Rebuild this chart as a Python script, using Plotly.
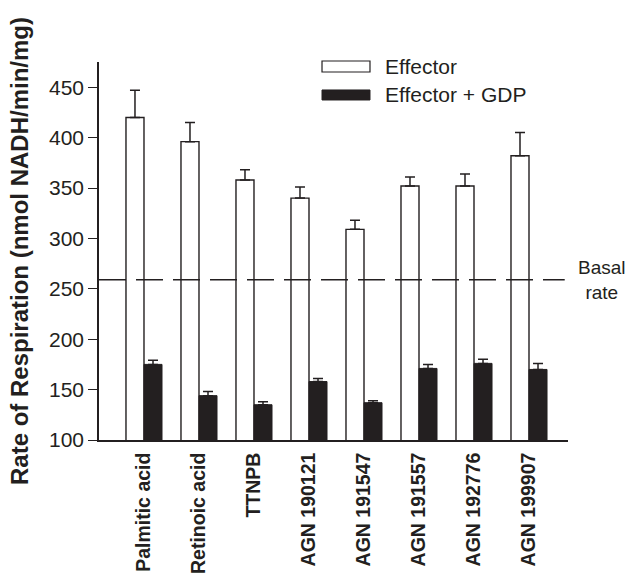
import plotly.graph_objects as go

categories = ["Palmitic acid", "Retinoic acid", "TTNPB", "AGN 190121",
              "AGN 191547", "AGN 191557", "AGN 192776", "AGN 199907"]
effector = [420, 396, 358, 340, 309, 352, 352, 382]
effector_err = [27, 19, 10, 11, 9, 9, 12, 23]
effector_gdp = [175, 144, 135, 158, 137, 171, 176, 170]
effector_gdp_err = [4, 4, 3, 3, 2, 4, 4, 6]
basal_rate = 259
y_ticks = [100, 150, 200, 250, 300, 350, 400, 450]

FONT = "Liberation Sans, Arial, sans-serif"
DARK = "#231f20"

fig = go.Figure()
fig.add_trace(go.Bar(
    x=categories, y=effector, name="Effector",
    marker=dict(color="white", line=dict(color=DARK, width=1.4)),
    error_y=dict(type="data", symmetric=False, array=effector_err,
                 arrayminus=[0] * len(effector_err),
                 color=DARK, thickness=1.5, width=5),
))
fig.add_trace(go.Bar(
    x=categories, y=effector_gdp, name="Effector + GDP",
    marker=dict(color=DARK, line=dict(color=DARK, width=1.0)),
    error_y=dict(type="data", symmetric=False, array=effector_gdp_err,
                 arrayminus=[0] * len(effector_gdp_err),
                 color=DARK, thickness=1.5, width=5),
))

# basal rate dashed line
fig.add_shape(type="line", xref="paper", yref="y", x0=0, x1=0.993,
              y0=basal_rate, y1=basal_rate,
              line=dict(color=DARK, width=1.6, dash="27px,10px"))
fig.add_annotation(xref="paper", yref="y", x=1.0725, y=basal_rate,
                   text="Basal<br>rate", showarrow=False,
                   xanchor="center", yanchor="middle",
                   font=dict(family=FONT, size=19, color=DARK))

# legend drawn manually (wide swatches)
fig.add_shape(type="rect", xref="paper", yref="paper",
              x0=0.4755, x1=0.5778, y0=0.9735, y1=1.0026,
              fillcolor="white", line=dict(color=DARK, width=1.2))
fig.add_shape(type="rect", xref="paper", yref="paper",
              x0=0.4755, x1=0.5778, y0=0.8995, y1=0.926,
              fillcolor=DARK, line=dict(color=DARK, width=1.0))
fig.add_annotation(xref="paper", yref="paper", x=0.6055, y=0.9868,
                   text="Effector", showarrow=False, xanchor="left",
                   yanchor="middle", font=dict(family=FONT, size=21, color=DARK))
fig.add_annotation(xref="paper", yref="paper", x=0.6055, y=0.9153,
                   text="Effector + GDP", showarrow=False, xanchor="left",
                   yanchor="middle", font=dict(family=FONT, size=21, color=DARK))

fig.update_layout(
    width=631, height=582,
    margin=dict(l=99, r=63, t=62, b=142, autoexpand=False),
    paper_bgcolor="white", plot_bgcolor="white",
    barmode="group", bargap=0.345, bargroupgap=0,
    showlegend=False,
    font=dict(family=FONT, color=DARK),
)
fig.update_xaxes(
    type="category", range=[-0.818, 7.709], automargin=False,
    showline=True, linecolor=DARK, linewidth=1.6,
    ticks="", tickangle=-90, showgrid=False, zeroline=False,
    tickfont=dict(family=FONT, size=19.5, color=DARK),
    ticklabelstandoff=3,
    tickmode="array", tickvals=categories,
    ticktext=["<b>%s</b>" % c for c in categories],
)
fig.update_yaxes(
    range=[100, 475], tickvals=y_ticks, automargin=False,
    showline=True, linecolor=DARK, linewidth=1.6,
    ticks="outside", ticklen=9, tickwidth=1.4, tickcolor=DARK,
    showgrid=False, zeroline=False,
    tickfont=dict(family=FONT, size=21, color=DARK),
    title=dict(text="<b>Rate of Respiration (nmol NADH/min/mg)</b>",
               font=dict(family=FONT, size=24, color=DARK), standoff=14),
)

fig.write_html("out.html")
